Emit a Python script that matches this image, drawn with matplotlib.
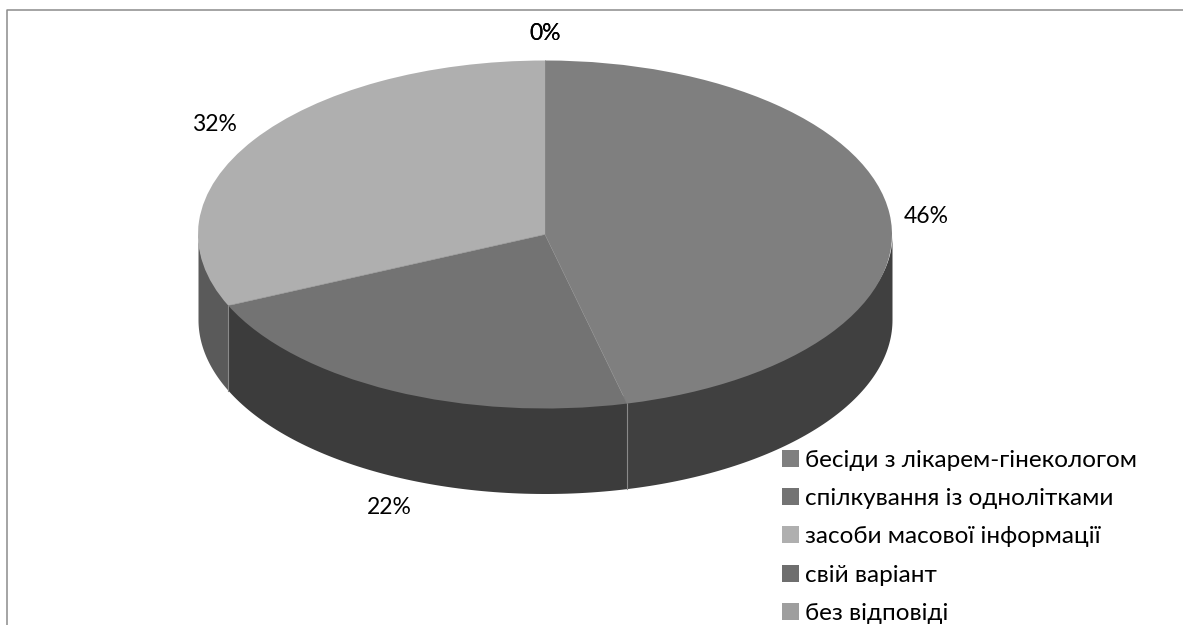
import numpy as np
import matplotlib
matplotlib.use('Agg')
import matplotlib.pyplot as plt
from matplotlib.lines import Line2D

plt.rcParams['font.family'] = ['Lato', 'Open Sans', 'DejaVu Sans']

categories = ['бесіди з лікарем-гінекологом', 'спілкування із однолітками',
              'засоби масової інформації', 'свій варіант', 'без відповіді']
values = [46.2, 22.1, 31.7, 0.0, 0.0]
top_colors = ['#7f7f7f', '#737373', '#afafaf', '#6e6e6e', '#9e9e9e']
side_colors = ['#404040', '#3c3c3c', '#5a5a5a', '#373737', '#4f4f4f']
label_pos = [(926, 217), (389, 507), (214, 125), (545, 33), (545, 33)]

W, H = 1183, 625
CX, CY = 545, 234.5
RX, RY = 347, 174
DEPTH = 85 / RY


def px(x, y):
    """Pixel position in the picture -> ellipse units used by the axes."""
    return (x - CX) / RX, (CY - y) / RY


fig = plt.figure(figsize=(W / 100, H / 100), dpi=100)
ax = fig.add_axes([0, 0, 1, 1])

# side walls, only the front half of the disc shows
edges = 90 - 3.6 * np.concatenate([[0], np.cumsum(values)])
for i in range(len(values)):
    lo, hi = max(edges[i + 1], -180), min(edges[i], 0)
    if hi <= lo:
        continue
    t = np.radians(np.linspace(lo, hi, 80))
    # top of the fill goes a bit under the disc so no white rim shows
    ax.fill_between(np.cos(t), 0.95 * np.sin(t), np.sin(t) - DEPTH,
                    color=side_colors[i], linewidth=0, zorder=1)

wedges, _ = ax.pie(values, colors=top_colors, startangle=90, counterclock=False,
                   wedgeprops=dict(linewidth=0))
for w in wedges:
    w.set_zorder(2)
ax.set_aspect('auto')
ax.set_xlim(px(0, 0)[0], px(W, 0)[0])
ax.set_ylim(px(0, H)[1], px(0, 0)[1])

# thin light seams between the slices
for e in edges[:3]:
    c, s = np.cos(np.radians(e)), np.sin(np.radians(e))
    ax.plot([0, c], [0, s], color='#8a8a8a', lw=0.4, zorder=3)
    if s < 0:
        ax.plot([c, c], [s, s - DEPTH], color='#8a8a8a', lw=0.8, zorder=3)

for v, pos in zip(values, label_pos):
    x, y = px(*pos)
    ax.text(x, y, f'{round(v)}%', ha='center', va='center', fontsize=16.5,
            color='black', zorder=4)

leg_x, leg_y = px(777, 445)
ax.legend(wedges, categories, loc='upper left', bbox_to_anchor=(leg_x, leg_y),
          bbox_transform=ax.transData, frameon=False, fontsize=17.5,
          handlelength=0.7, handleheight=0.7, handletextpad=0.25,
          labelspacing=0.71, borderpad=0.2, borderaxespad=0)

# chart frame, cut by the picture on the right and at the bottom
frame_x = [1.0, 7.0 / W, 7.0 / W]
frame_y = [1 - 9.5 / H, 1 - 9.5 / H, 0]
fig.add_artist(Line2D(frame_x, frame_y, color='#8c8c8c', lw=1.1,
                      transform=fig.transFigure))

fig.savefig('out.png', dpi=100)
